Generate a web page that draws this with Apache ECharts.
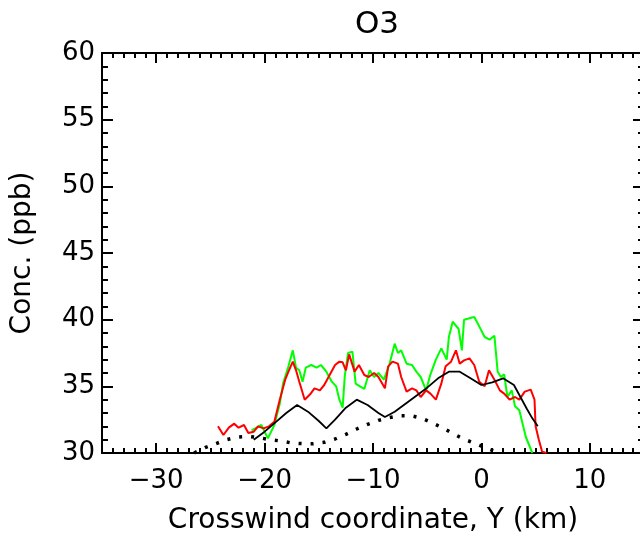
<!DOCTYPE html>
<html>
<head>
<meta charset="utf-8">
<script src="https://cdn.jsdelivr.net/npm/echarts@6/dist/echarts.min.js"></script>
<style>
  html, body { margin: 0; padding: 0; background: #fff; }
  #chart { width: 640px; height: 537px; }
</style>
</head>
<body>
<div id="chart"></div>
<script>
// O3 crosswind profile
var titleText = 'O3';
var xName = 'Crosswind coordinate, Y (km)';
var yName = 'Conc. (ppb)';
var xMajorTicks = [-30, -20, -10, 0, 10];

// red trace
var redX = [-24.3, -23.8, -23.3, -22.8, -22.4, -21.9, -21.5, -21.0, -20.6, -20.1, -19.6, -19.1,
  -18.6, -18.1, -17.8, -17.4, -17.1, -16.8, -16.3, -15.8, -15.4, -14.9, -14.5, -14.0, -13.5,
  -13.1, -12.8, -12.5, -12.2, -11.7, -11.3, -10.8, -10.4, -9.9, -9.5, -8.9, -8.6, -8.2, -7.7,
  -7.4, -6.9, -6.4, -6.0, -5.6, -5.1, -4.7, -4.2, -3.7, -3.3, -2.8, -2.35, -2.0, -1.6, -1.1,
  -0.66, -0.2, 0.3, 0.7, 1.2, 1.7, 2.1, 2.6, 3.1, 3.5, 4.0, 4.55, 4.9, 5.0, 5.3, 5.6, 6.0];
var redY = [32.0, 31.35, 31.9, 32.2, 31.9, 32.1, 31.5, 31.6, 32.0, 31.85, 32.0, 32.35,
  34.0, 35.5, 36.1, 36.85, 36.2, 35.35, 34.0, 34.4, 34.85, 34.7, 35.1, 35.85, 36.6,
  36.85, 36.8, 36.2, 37.4, 36.1, 36.6, 35.85, 35.7, 36.0, 35.7, 34.85, 36.5, 36.85, 36.7,
  35.7, 34.6, 34.85, 34.7, 34.2, 34.7, 34.45, 34.0, 35.2, 36.5, 36.85, 37.7, 36.7, 36.95, 37.1,
  36.6, 35.35, 35.0, 36.2, 35.5, 34.7, 34.45, 34.0, 34.2, 34.0, 34.6, 34.75, 34.0, 32.0, 31.0, 30.1, 30.0];

// green trace
var greenX = [-21.2, -20.3, -19.7, -19.1, -18.6, -18.3, -17.8, -17.4, -17.1, -16.8, -16.5, -16.2,
  -15.7, -15.2, -14.8, -14.3, -13.8, -13.4, -13.1, -12.8, -12.6, -12.3, -11.9, -11.6, -11.2,
  -10.8, -10.3, -9.9, -9.5, -9.0, -8.5, -8.0, -7.7, -7.4, -6.9, -6.4, -6.0, -5.6, -5.1, -4.7,
  -4.2, -3.7, -3.2, -3.0, -2.65, -2.1, -1.8, -1.6, -1.1, -0.66, -0.2, 0.3, 0.75, 1.2, 1.5, 1.8,
  2.1, 2.4, 2.8, 3.1, 3.5, 3.8, 4.1, 4.4, 4.7];
var greenY = [31.7, 32.1, 31.1, 32.1, 33.7, 35.2, 36.5, 37.7, 36.4, 36.2, 35.35, 36.4,
  36.6, 36.4, 36.6, 36.1, 35.35, 35.0, 34.0, 33.4, 35.8, 37.5, 37.6, 35.2, 35.0,
  34.8, 36.2, 35.7, 36.0, 35.5, 36.6, 38.2, 37.5, 37.7, 36.7, 36.6, 36.1, 35.7, 34.7, 35.9,
  37.0, 37.85, 37.0, 38.7, 39.85, 39.3, 37.7, 40.0, 40.1, 40.2, 39.5, 38.7, 38.5, 38.8, 36.1, 35.7,
  35.9, 34.2, 34.7, 33.5, 33.2, 32.2, 31.2, 30.6, 30.0];

// solid black model line
var modelX = [-21, -20, -19, -18, -17, -16, -15, -14.3, -13.5, -12.5, -11.5, -10.5, -9.5, -8.9,
  -8, -7, -6, -5, -4, -3, -2, -1, 0, 1, 2, 3, 3.6, 4.2, 4.7, 5.2];
var modelY = [31.0, 31.6, 32.3, 33.0, 33.6, 33.1, 32.4, 31.85, 32.5, 33.4, 34.0, 33.6, 33.0, 32.7,
  33.1, 33.7, 34.3, 34.9, 35.6, 36.1, 36.1, 35.6, 35.1, 35.3, 35.6, 35.1, 34.2, 33.3, 32.6, 32.0];

// dotted black line
var dotX = [-26.5, -25.5, -24.5, -23.5, -22.5, -21.5, -20.5, -19.5, -18.5, -17.5, -16.5, -15.5,
  -14.5, -13.5, -12.5, -11.5, -10.5, -9.5, -8.5, -7.5, -6.5, -5.5, -4.5, -3.5, -2.5, -1.5, -0.5, 0.5, 1.5];
var dotY = [30.0, 30.4, 30.7, 31.0, 31.2, 31.25, 31.15, 31.0, 30.9, 30.75, 30.7, 30.7,
  30.8, 31.05, 31.4, 31.8, 32.15, 32.45, 32.65, 32.8, 32.8, 32.6, 32.25, 31.85, 31.4, 31.0, 30.7, 30.35, 30.05];

function zip(xs, ys) {
  var out = [];
  for (var i = 0; i < xs.length; i++) out.push([xs[i], ys[i]]);
  return out;
}

var font = 'DejaVu Sans';
var lineCol = '#000';

function fmtMinus(v) {
  return v < 0 ? '\u2212' + Math.abs(v) : String(v);
}

function majorX(pos, showLabel) {
  return {
    type: 'value', position: pos, min: -35, max: 15,
    axisLine: { show: true, onZero: false, lineStyle: { color: lineCol, width: 2 } },
    axisTick: { show: true, inside: true, length: 10, customValues: xMajorTicks,
      lineStyle: { color: lineCol, width: 2 } },
    axisLabel: { show: showLabel, customValues: xMajorTicks, fontFamily: font, fontSize: 26,
      color: '#000', margin: 15, formatter: fmtMinus },
    splitLine: { show: false }
  };
}
function minorX(pos) {
  return {
    type: 'value', position: pos, min: -35, max: 15, interval: 1,
    axisLine: { show: false },
    axisTick: { show: true, inside: true, length: 5, lineStyle: { color: lineCol, width: 2 } },
    axisLabel: { show: false },
    splitLine: { show: false }
  };
}
function yAx(pos, showLabel) {
  return {
    type: 'value', position: pos, min: 30, max: 60, interval: 5,
    axisLine: { show: true, onZero: false, lineStyle: { color: lineCol, width: 2 } },
    axisTick: { show: true, inside: true, length: 11, lineStyle: { color: lineCol, width: 2 } },
    minorTick: { show: true, splitNumber: 5, length: 6, lineStyle: { color: lineCol, width: 2 } },
    axisLabel: { show: showLabel, fontFamily: font, fontSize: 26, color: '#000', margin: 7 },
    splitLine: { show: false },
    minorSplitLine: { show: false }
  };
}

var chart = echarts.init(document.getElementById('chart'));
var xBottom = majorX('bottom', true);
xBottom.name = xName;
xBottom.nameLocation = 'middle';
xBottom.nameGap = 54;
xBottom.nameTextStyle = { fontFamily: font, fontSize: 28, color: '#000' };
var yLeft = yAx('left', true);
yLeft.name = yName;
yLeft.nameLocation = 'middle';
yLeft.nameGap = 65;
yLeft.nameTextStyle = { fontFamily: font, fontSize: 28, color: '#000' };

chart.setOption({
  animation: false,
  backgroundColor: '#fff',
  title: {
    text: titleText, left: 372, top: 4, textAlign: 'center',
    textStyle: { fontFamily: font, fontSize: 31, fontWeight: 'normal', color: '#000' }
  },
  grid: { left: 102, width: 542, top: 53, height: 400, containLabel: false, outerBoundsMode: 'none' },
  xAxis: [xBottom, minorX('bottom'), majorX('top', false), minorX('top')],
  yAxis: [yLeft, yAx('right', false)],
  series: [
    {
      type: 'line', data: zip(dotX, dotY), showSymbol: false, clip: true,
      lineStyle: { color: '#000', width: 3.5, type: [3, 9] }
    },
    {
      type: 'line', data: zip(greenX, greenY), showSymbol: false, clip: true,
      lineStyle: { color: '#00ff00', width: 2 }
    },
    {
      type: 'line', data: zip(redX, redY), showSymbol: false, clip: true,
      lineStyle: { color: '#ff0000', width: 2 }
    },
    {
      type: 'line', data: zip(modelX, modelY), showSymbol: false, clip: true,
      lineStyle: { color: '#000', width: 1.8 }
    }
  ]
});
</script>
</body>
</html>
